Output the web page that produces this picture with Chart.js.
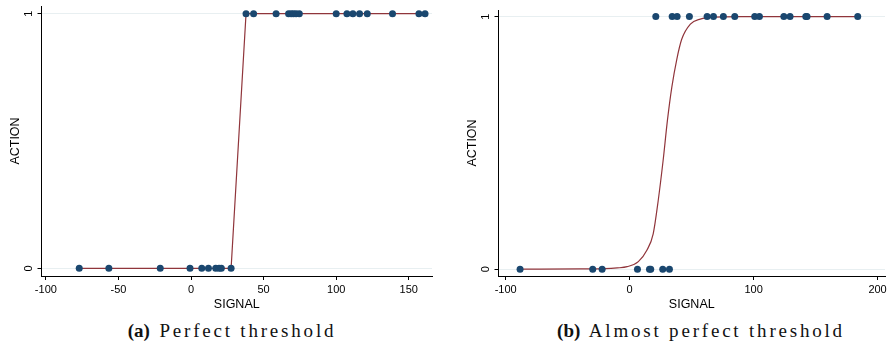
<!DOCTYPE html>
<html lang="en">
<head>
<meta charset="UTF-8">
<title>Threshold</title>
<style>
  body { margin:0; background:#fff; width:891px; height:348px; position:relative; overflow:hidden; }
  .wrap { position:absolute; top:0; height:320px; }
  #wrapA { left:0; width:445px; }
  #wrapB { left:457px; width:434px; }
  .caption { position:absolute; top:320px; font-family:"Liberation Serif", serif; font-size:19px; letter-spacing:2.8px; white-space:nowrap; transform:translateX(-50%); color:#111; }
  .caption b { letter-spacing:0; margin-right:2px; }
</style>
</head>
<body>
<div class="wrap" id="wrapA"><canvas id="chartA"></canvas></div>
<div class="wrap" id="wrapB"><canvas id="chartB"></canvas></div>
<div class="caption" style="left:232px"><b>(a)</b> Perfect threshold</div>
<div class="caption" style="left:701px"><b>(b)</b> Almost perfect threshold</div>

<script src="https://cdn.jsdelivr.net/npm/chart.js"></script>
<script>
// (a) perfect threshold: signal values where action = 0 / action = 1
const signalA0 = [-77, -56.6, -21.2, -0.7, 7.4, 12, 17, 19.3, 20.9, 27.6];
const signalA1 = [37.9, 43.1, 58.6, 67.2, 69, 70.6, 72.4, 74.6, 100, 107.4, 111.5, 116.1, 121.4, 138.8, 157, 161.2];

// (b) almost perfect threshold
const signalB0 = [-88.4, -29.8, -22.2, 6.3, 16, 17, 26.7, 32.1];
const signalB1 = [21.1, 34.3, 38.3, 48.2, 62.5, 67.6, 75.6, 84.8, 100.9, 104.7, 124.4, 129.4, 142.1, 143.1, 159.3, 184];

// fitted curve in (b)
const curveX = [-88, -40, -20, -10, -2, 7, 14, 19, 23, 27, 30.5, 34, 38, 42, 49, 57, 68, 90, 130, 184];
const curveY = [0, 0.001, 0.002, 0.005, 0.01, 0.03, 0.076, 0.14, 0.27, 0.43, 0.59, 0.72, 0.83, 0.91, 0.97, 0.99, 0.998, 1, 1, 1];

// axis ticks
const xTicksA = [-100, -50, 0, 50, 100, 150];
const xTicksB = [-100, 0, 100, 200];
const yTicks = [0, 1];

Chart.defaults.font.family = '"Liberation Sans", Arial, sans-serif';
Chart.defaults.color = '#000';

const navy = '#1a476f';
const maroon = '#90353b';

// y tick labels are rotated in the original
const rotatedYLabels = {
  id: 'rotatedYLabels',
  afterDraw(chart) {
    const y = chart.scales.y;
    const ctx = chart.ctx;
    ctx.save();
    ctx.font = '11px "Liberation Sans", Arial, sans-serif';
    ctx.fillStyle = '#000';
    ctx.textAlign = 'center';
    ctx.textBaseline = 'middle';
    y.ticks.forEach(t => {
      ctx.save();
      ctx.translate(y.right - 13, y.getPixelForValue(t.value));
      ctx.rotate(-Math.PI / 2);
      ctx.fillText(String(t.value), 0, 0);
      ctx.restore();
    });
    ctx.restore();
  }
};

function pts(xs, y) {
  return xs.map(x => ({ x: x, y: y }));
}

function makeChart(id, points, line, smooth, xTicks, xMin, xMax, yMin, yMax, pad) {
  return new Chart(document.getElementById(id), {
    type: 'scatter',
    data: {
      datasets: [
        {
          data: points,
          backgroundColor: navy,
          borderWidth: 0,
          pointRadius: 3.5,
          order: 0
        },
        {
          data: line,
          showLine: true,
          borderColor: maroon,
          borderWidth: 1.2,
          pointRadius: 0,
          cubicInterpolationMode: smooth ? 'monotone' : 'default',
          order: 1
        }
      ]
    },
    options: {
      animation: false,
      responsive: true,
      maintainAspectRatio: false,
      layout: { padding: pad },
      plugins: { legend: { display: false }, tooltip: { enabled: false } },
      scales: {
        x: {
          type: 'linear',
          min: xMin,
          max: xMax,
          afterBuildTicks: s => { s.ticks = xTicks.map(v => ({ value: v })); },
          afterFit: s => { s.height = 44; },
          grid: { drawOnChartArea: false, tickLength: 4, tickColor: '#000' },
          border: { color: '#000', width: 1 },
          ticks: { font: { size: 11 }, padding: 3, maxRotation: 0, autoSkip: false },
          title: { display: true, text: 'SIGNAL', font: { size: 12.5 }, padding: { top: 0, bottom: 8 } }
        },
        y: {
          min: yMin,
          max: yMax,
          afterBuildTicks: s => { s.ticks = yTicks.map(v => ({ value: v })); },
          afterFit: s => { s.width = 41.5; },
          grid: { color: '#e8eff1', tickLength: 4, tickColor: '#000' },
          border: { color: '#000', width: 1 },
          ticks: { display: false },
          title: { display: true, text: 'ACTION', font: { size: 12.5 }, padding: { top: 8, bottom: 0 } }
        }
      }
    },
    plugins: [rotatedYLabels]
  });
}

// panel (a): line joins the points in signal order
const pointsA = pts(signalA0, 0).concat(pts(signalA1, 1));
const lineA = pointsA.slice().sort((a, b) => a.x - b.x);
makeChart('chartA', pointsA, lineA, false, xTicksA, -103, 166, -0.03, 1.03, { top: 6, right: 13 });

// panel (b)
const pointsB = pts(signalB0, 0).concat(pts(signalB1, 1));
const lineB = curveX.map((x, i) => ({ x: x, y: curveY[i] }));
makeChart('chartB', pointsB, lineB, true, xTicksB, -105.8, 206, -0.027, 1.026, { top: 10, right: 6 });
</script>
</body>
</html>
